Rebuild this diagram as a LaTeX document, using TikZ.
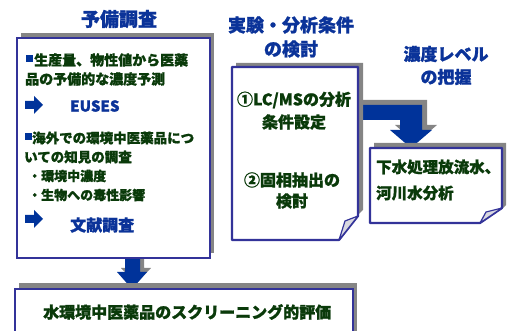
\documentclass[tikz,border=0pt]{standalone}
\usepackage{fontspec}
\setmainfont{Noto Sans CJK JP}[BoldFeatures={FakeBold=1.2}]
\definecolor{tgreen}{HTML}{0A3A0A}
\definecolor{hblue}{HTML}{0B3399}
\definecolor{bline}{HTML}{333399}
\definecolor{ablue}{HTML}{00339A}
\definecolor{shade}{HTML}{858585}
\definecolor{flap}{HTML}{D8D8E0}
\tikzset{
  boxline/.style={draw=bline, line width=2.2pt, fill=white},
  shadowfill/.style={fill=shade},
  arrowfill/.style={fill=ablue},
  txt/.style={font=\bfseries\fontsize{#1}{#1}\selectfont, text=tgreen, inner sep=0pt},
  txt/.default=14,
  head/.style={font=\bfseries\fontsize{#1}{#1}\selectfont, text=hblue, inner sep=0pt},
  head/.default=17,
  btxt/.style={font=\bfseries\fontsize{#1}{#1}\selectfont, text=hblue, inner sep=0pt},
  bullet/.style={fill=ablue, minimum size=7pt, inner sep=0pt},
}
\begin{document}
\begin{tikzpicture}[x=1pt,y=-1pt]
\useasboundingbox (0,0) rectangle (507,331);
% titles
\node[head=19] (t1) at (119,19) {予備調査};
\node[head=18] (t2a) at (291,25) {実験・分析条件};
\node[head=18] (t2b) at (291,49) {の検討};
\node[head=17] (t3a) at (446,54) {濃度レベル};
\node[head=17] (t3b) at (446,77) {の把握};

% down arrow (left box -> bottom box)
\fill[shadowfill] (129,252) -- (144,252) -- (144,268) -- (151,268) -- (136,284) -- (121,268) -- (129,268) -- cycle;
\fill[arrowfill] (125,256) -- (140,256) -- (140,272) -- (147,272) -- (132,289) -- (117,272) -- (125,272) -- cycle;

% elbow arrow (middle box -> right box)
\fill[shadowfill] (362,100) -- (427,100) -- (427,125) -- (437,125) -- (416,143) -- (395,125) -- (405,125) -- (405,115) -- (362,115) -- cycle;
\fill[arrowfill] (357,105) -- (422,105) -- (422,130) -- (432,130) -- (411,148) -- (390,130) -- (400,130) -- (400,120) -- (357,120) -- cycle;

% left box
\fill[shadowfill] (21,33) rectangle (214,253);
\draw[boxline] (17,38) rectangle (210,258);

% bottom box
\fill[shadowfill] (19,283) rectangle (357,340);
\draw[boxline] (15,289) rectangle (353,345);

% middle box with folded corner
\fill[shadowfill] (236,63) -- (363,63) -- (363,210) -- (358,215) -- (358,67) -- (236,67) -- cycle;
\draw[boxline, line join=round] (232,67) -- (358,67) -- (358,216) -- (339,240) -- (232,240) -- cycle;
\draw[draw=bline, line width=1.2pt, fill=flap, line join=round] (358,216) -- (339,240) -- (345,221) -- cycle;

% right box with folded corner
\fill[shadowfill] (374,143) -- (506,143) -- (506,205) -- (502,209) -- (502,148) -- (374,148) -- cycle;
\draw[boxline, line join=round] (370,148) -- (502,148) -- (502,208) -- (480,223) -- (370,223) -- cycle;
\draw[draw=bline, line width=1.2pt, fill=flap, line join=round] (502,208) -- (480,223) -- (486,212) -- cycle;

% left box contents
\node[bullet] (b1) at (29,59) {};
\node[txt, anchor=west] (l1) at (34,60) {生産量、物性値から医薬};
\node[txt, anchor=west] (l2) at (25,79) {品の予備的な濃度予測};
\fill[ablue] (25,101) -- (34,101) -- (34,96) -- (43,105) -- (34,114) -- (34,109) -- (25,109) -- cycle;
\node[btxt=15, anchor=west] (eu) at (70,106) {EUSES};
\node[bullet] (b2) at (28,137) {};
\node[txt=13.5, anchor=west] (l3) at (32,138) {海外での環境中医薬品につ};
\node[txt=13.5, anchor=west] (l4) at (24,157) {いての知見の調査};
\node[txt=13, anchor=west] (l5) at (28,176) {・環境中濃度};
\node[txt=13, anchor=west] (l6) at (28,195) {・生物への毒性影響};
\fill[ablue] (25,215) -- (34,215) -- (34,210) -- (43,219) -- (34,228) -- (34,223) -- (25,223) -- cycle;
\node[btxt=16, anchor=west] (bun) at (70,225) {文献調査};

% middle box contents
\node[txt=16] (m1) at (294,100) {①LC/MSの分析};
\node[txt=16] (m2) at (294,122) {条件設定};
\node[txt=16] (m3) at (292,180) {②固相抽出の};
\node[txt=16] (m4) at (292,201) {検討};

% right box contents
\node[txt=15.5, anchor=west] (r1) at (376,167) {下水処理放流水、};
\node[txt=15.5, anchor=west] (r2) at (376,193) {河川水分析};

% bottom box content
\node[txt=16, anchor=west] (bt) at (43,312) {水環境中医薬品のスクリーニング的評価};
\end{tikzpicture}
\end{document}
